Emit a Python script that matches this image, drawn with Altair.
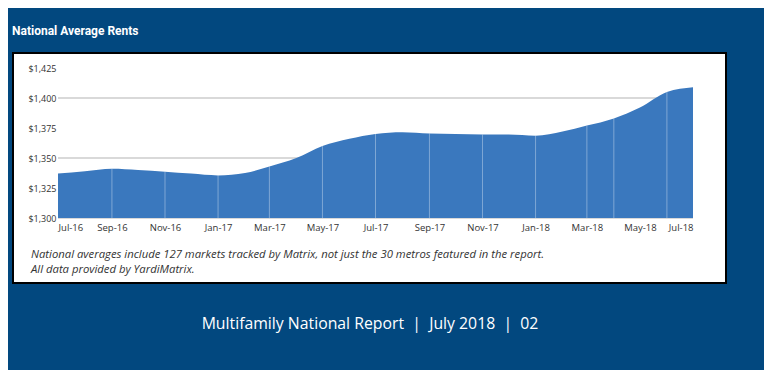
import altair as alt
import pandas as pd

# ---- data ----
months = ["2016-07-01", "2016-08-01", "2016-09-01", "2016-10-01", "2016-11-01", "2016-12-01",
          "2017-01-01", "2017-02-01", "2017-03-01", "2017-04-01", "2017-05-01", "2017-06-01",
          "2017-07-01", "2017-08-01", "2017-09-01", "2017-10-01", "2017-11-01", "2017-12-01",
          "2018-01-01", "2018-02-01", "2018-03-01", "2018-04-01", "2018-05-01", "2018-06-01",
          "2018-07-01"]
rents = [1337, 1339, 1341, 1340, 1338.5, 1337, 1335.5, 1337.5, 1343, 1350, 1360, 1366,
         1370, 1371.5, 1370.5, 1370, 1369.5, 1369.5, 1368.5, 1372, 1377, 1383, 1392, 1405,
         1409]
divider_months = ["2016-09-01", "2016-11-01", "2017-01-01", "2017-03-01", "2017-05-01",
                  "2017-07-01", "2017-09-01", "2017-11-01", "2018-01-01", "2018-03-01",
                  "2018-04-01", "2018-06-01"]
x_tick_values = ["2016-07-01", "2016-09-01", "2016-11-01", "2017-01-01", "2017-03-01",
                 "2017-05-01", "2017-07-01", "2017-09-01", "2017-11-01", "2018-01-01",
                 "2018-03-01", "2018-05-01", "2018-07-01"]
y_tick_values = [1300, 1325, 1350, 1375, 1400, 1425]
grid_values = [1350, 1400]

title_text = "National Average Rents"
caption_lines = ["National averages include 127 markets tracked by Matrix, not just the 30 metros featured in the report.",
                 "All data provided by YardiMatrix."]
footer_text = "Multifamily National Report\u00a0\u00a0|\u00a0\u00a0July 2018\u00a0\u00a0|\u00a0\u00a002"

BG = "#02487f"
AREA = "#3a78be"
FONT = "Open Sans"

df = pd.DataFrame({"month": months, "rent": rents})
df_div = df[df["month"].isin(divider_months)]
df_grid = pd.DataFrame({"v": grid_values})
one = pd.DataFrame({"k": [0]})

x_scale = alt.Scale(type="utc", domain=[months[0], months[-1]], nice=False)
y_scale = alt.Scale(domain=[1300, 1425], nice=False, zero=False)

x_axis = alt.Axis(title=None, values=x_tick_values, format="%b-%y", labelFont=FONT,
                  labelFontSize=9.5, labelColor="#333333", domain=False, ticks=False,
                  grid=False, labelPadding=4, zindex=1)
y_axis = alt.Axis(title=None, values=y_tick_values, format="$,.0f", labelFont=FONT,
                  labelFontSize=9, labelColor="#333333", domain=False, ticks=False,
                  grid=False, labelPadding=2, zindex=1)

panel = alt.Chart(one).mark_rect(fill="white", stroke="black", strokeWidth=2).encode(
    x=alt.value(-45), x2=alt.value(668), y=alt.value(-15), y2=alt.value(215)
)

grid = alt.Chart(df_grid).mark_rule(color="#d9d9d9", strokeWidth=2).encode(
    y=alt.Y("v:Q", scale=y_scale, axis=y_axis),
    x=alt.value(0), x2=alt.value(635)
)

base_line = alt.Chart(one).mark_rule(color="#d9d9d9", strokeWidth=2).encode(
    x=alt.value(0), x2=alt.value(635), y=alt.value(150)
)

area = alt.Chart(df).mark_area(color=AREA, interpolate="monotone").encode(
    x=alt.X("month:T", scale=x_scale, axis=x_axis),
    y=alt.Y("rent:Q", scale=y_scale, axis=y_axis),
    y2=alt.datum(1300),
)

dividers = alt.Chart(df_div).mark_rule(color="white", opacity=0.35, strokeWidth=1).encode(
    x=alt.X("month:T", scale=x_scale, axis=x_axis),
    y=alt.Y("rent:Q", scale=y_scale, axis=y_axis),
    y2=alt.datum(1300),
)

title = alt.Chart(one).mark_text(
    text=title_text, font="Roboto", fontWeight="bold",
    fontSize=12, color="white", align="left", baseline="middle"
).encode(x=alt.value(-46), y=alt.value(-37))

cap1 = alt.Chart(one).mark_text(
    text=caption_lines[0], font=FONT, fontStyle="italic", fontSize=11.3,
    color="#333333", align="left", baseline="middle"
).encode(x=alt.value(-27), y=alt.value(187))

cap2 = alt.Chart(one).mark_text(
    text=caption_lines[1], font=FONT, fontStyle="italic", fontSize=11.3,
    color="#333333", align="left", baseline="middle"
).encode(x=alt.value(-27), y=alt.value(202))

footer = alt.Chart(one).mark_text(
    text=footer_text, font=FONT, fontSize=15.8, color="white",
    align="center", baseline="middle"
).encode(x=alt.value(312), y=alt.value(256))

chart = alt.layer(panel, grid, base_line, area, dividers, title, cap1, cap2, footer).properties(
    width=635, height=150,
    autosize=alt.AutoSizeParams(type="none"),
    padding={"left": 50, "top": 60, "right": 71, "bottom": 152},
    background=BG,
).configure_view(stroke=None)

chart.save("out.html", embed_options={"renderer": "svg", "actions": False})
